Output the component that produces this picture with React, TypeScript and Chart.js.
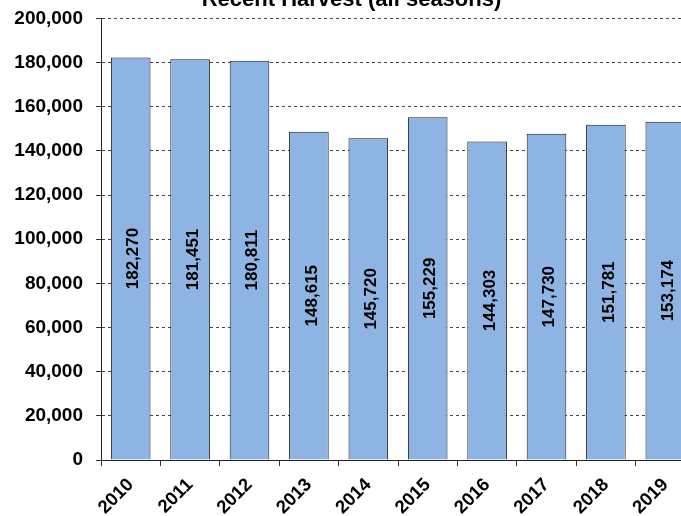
import React, { useEffect, useRef } from "react";
import { Chart, registerables } from "chart.js";

Chart.register(...registerables);

const years = ["2010", "2011", "2012", "2013", "2014", "2015", "2016", "2017", "2018", "2019"];
const harvest = [182270, 181451, 180811, 148615, 145720, 155229, 144303, 147730, 151781, 153174];
const yMin = 0;
const yMax = 200000;
const yStep = 20000;
const chartTitle = "Recent Harvest (all seasons)";

const FONT = "'Liberation Sans', Arial, Helvetica, sans-serif";
const fmt = (v: number) => v.toLocaleString("en-US");

const barLabels = {
  id: "barLabels",
  afterDatasetsDraw(chart: any) {
    const { ctx } = chart;
    const meta = chart.getDatasetMeta(0);
    const values = chart.data.datasets[0].data as number[];
    ctx.save();
    ctx.font = `bold 17px ${FONT}`;
    ctx.fillStyle = "#000";
    ctx.textAlign = "center";
    ctx.textBaseline = "middle";
    meta.data.forEach((bar: any, i: number) => {
      const { x, y, base } = bar.getProps(["x", "y", "base"], true);
      ctx.save();
      ctx.translate(x, (y + base) / 2);
      ctx.rotate(-Math.PI / 2);
      ctx.fillText(fmt(values[i]), 0, 3);
      ctx.restore();
    });
    ctx.restore();
  },
};

export default function App() {
  const ref = useRef<HTMLCanvasElement | null>(null);

  useEffect(() => {
    if (!ref.current) return;
    const chart = new Chart(ref.current, {
      type: "bar",
      data: {
        labels: years,
        datasets: [
          {
            data: harvest,
            backgroundColor: "#8EB4E3",
            borderColor: "#1a1a1a",
            borderWidth: 1,
            barPercentage: 0.667,
            categoryPercentage: 1,
          },
        ],
      },
      options: {
        responsive: false,
        animation: false,
        devicePixelRatio: 1,
        layout: { padding: { left: 0, right: 0, top: 0, bottom: 0 } },
        plugins: {
          legend: { display: false },
          tooltip: { enabled: false },
          title: {
            display: true,
            text: chartTitle,
            color: "#000",
            font: { family: FONT, size: 22, weight: "bold", lineHeight: 1.2 },
            padding: { top: 0, bottom: 5 },
          },
        },
        scales: {
          x: {
            grid: {
              display: true,
              drawOnChartArea: false,
              offset: true,
              tickLength: 6,
              color: "#333",
              tickColor: "#333",
            },
            border: { display: true, color: "#222", width: 1 },
            ticks: {
              autoSkip: false,
              maxRotation: 45,
              minRotation: 45,
              padding: 8,
              color: "#000",
              font: { family: FONT, size: 18.5, weight: "bold" },
            },
            afterFit: (scale: any) => {
              scale.height = 56;
            },
          },
          y: {
            min: yMin,
            max: yMax,
            grid: {
              color: "#444",
              tickLength: 5,
              tickColor: "#333",
              tickBorderDash: [],
              borderDash: [3, 3],
            } as any,
            border: { display: true, color: "#222", width: 1, dash: [3, 3] },
            ticks: {
              stepSize: yStep,
              padding: 13,
              color: "#000",
              font: { family: FONT, size: 19, weight: "bold" },
              callback: (v: any) => fmt(Number(v)),
            },
            afterFit: (scale: any) => {
              scale.width = 93;
            },
          },
        },
      },
      plugins: [barLabels],
    });
    return () => chart.destroy();
  }, []);

  return (
    <div
      style={{
        position: "fixed",
        left: 0,
        top: 0,
        width: 681,
        height: 516,
        overflow: "hidden",
        background: "#fff",
      }}
    >
      <canvas
        ref={ref}
        width={687}
        height={529}
        style={{ position: "absolute", left: 8, top: -13 }}
      />
    </div>
  );
}
